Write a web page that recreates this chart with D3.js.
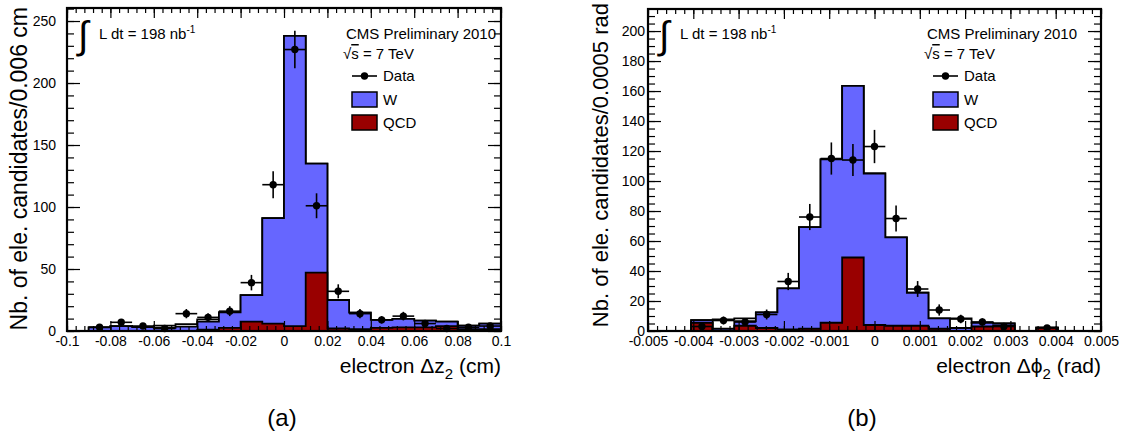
<!DOCTYPE html>
<html>
<head>
<meta charset="utf-8">
<script src="https://cdn.jsdelivr.net/npm/d3@7"></script>
<style>
  body { margin: 0; background: #fff; }
  svg text { font-family: "Liberation Sans", Arial, sans-serif; fill: #000; }
</style>
</head>
<body>
<svg id="fig" width="1125" height="434"></svg>
<script>
// ---- panel (a): electron delta z2, 20 bins between -0.1 and 0.1 cm
const dzBins  = 20;
const dzQcd   = [0, 0, 0, 0, 0, 0, 1, 2.5, 7.5, 6, 4, 47, 2, 1.5, 2.5, 3, 3, 4, 1.5, 1.5];
const dzStack = [0, 3, 4, 3.2, 4.3, 5.6, 9.4, 15, 29, 91, 238, 135, 25, 14.8, 8.9, 9.7, 8.3, 7.5, 4.3, 5.9];
const dzBlue  = [0, 3, 4, 3.2, 2.5, 3.5, 7.5, 15, 29, 91, 238, 135, 25, 14.8, 8.9, 9.7, 8.3, 7.5, 4.3, 5.9];
const dzData  = [0, 3, 7, 4, 2, 14, 11, 16, 39, 118, 227, 101, 32, 14, 9, 12, 6, 2, 3, 4];
const dzTicks = [-0.1, -0.08, -0.06, -0.04, -0.02, 0, 0.02, 0.04, 0.06, 0.08, 0.1];
const dzTickLabels = ["-0.1", "-0.08", "-0.06", "-0.04", "-0.02", "0", "0.02", "0.04", "0.06", "0.08", "0.1"];
const dzYTicks = [0, 50, 100, 150, 200, 250];

// ---- panel (b): electron delta phi2, 21 bins between -0.005 and 0.005 rad
const phBins  = 21;
const phQcd   = [0, 0, 5.5, 0, 3.5, 2, 1, 1.5, 5.5, 49, 4, 3.5, 3.5, 1.5, 0, 3, 3.5, 0, 2.2, 0, 0];
const phStack = [0, 0, 7.3, 7.8, 8.4, 12.4, 28.4, 69.3, 114.4, 163.5, 105, 62.4, 25.5, 8.4, 8.4, 5.5, 5, 0, 2.2, 0, 0];
const phBlue  = [0, 0, 7.3, 1.5, 6.5, 12.4, 28.4, 69.3, 114.4, 163.5, 105, 62.4, 25.5, 8.4, 2, 5.5, 5, 0, 2.2, 0, 0];
const phData  = [0, 0, 3, 7, 6, 11, 33, 76, 115, 114, 123, 75, 28, 14, 8, 6, 3, 0, 2, 0, 0];
const phTicks = [-0.005, -0.004, -0.003, -0.002, -0.001, 0, 0.001, 0.002, 0.003, 0.004, 0.005];
const phTickLabels = ["-0.005", "-0.004", "-0.003", "-0.002", "-0.001", "0", "0.001", "0.002", "0.003", "0.004", "0.005"];
const phYTicks = [0, 20, 40, 60, 80, 100, 120, 140, 160, 180, 200];

const blue = "#6666ff", red = "#990000";
const svg = d3.select("#fig");

function drawPanel(p) {
  const x = d3.scaleLinear().domain(p.xDomain).range([p.left, p.right]);
  const y = d3.scaleLinear().domain(p.yDomain).range([p.bottom, p.top]);
  const g = svg.append("g");
  const bw = (p.xDomain[1] - p.xDomain[0]) / p.nBins;
  const lo = i => p.xDomain[0] + i * bw;
  const idx = d3.range(p.nBins);

  // step outline of one stacked layer
  const line = d3.line();
  function stepPath(h) {
    const pts = [[x(lo(0)), y(0)]];
    idx.forEach(i => pts.push([x(lo(i)), y(h[i])], [x(lo(i + 1)), y(h[i])]));
    pts.push([x(lo(p.nBins)), y(0)]);
    return line(pts) + "Z";
  }

  g.append("path").attr("d", stepPath(p.stack)).attr("fill", "#fff")
    .attr("stroke", "#000").attr("stroke-width", 1.8);
  g.append("path").attr("d", stepPath(p.blue)).attr("fill", blue)
    .attr("stroke", "#000").attr("stroke-width", 1.8);
  g.append("path").attr("d", stepPath(p.qcd)).attr("fill", red)
    .attr("stroke", "#000").attr("stroke-width", 1.8);

  // data points with errors
  const pts = idx.map(i => ({ a: lo(i), b: lo(i + 1), n: p.data[i] })).filter(d => d.n > 0);
  const dg = g.append("g").attr("stroke", "#000").attr("stroke-width", 1.6);
  dg.selectAll(".ex").data(pts).join("line")
    .attr("x1", d => x(d.a)).attr("x2", d => x(d.b))
    .attr("y1", d => y(d.n)).attr("y2", d => y(d.n));
  dg.selectAll(".ey").data(pts).join("line")
    .attr("x1", d => x((d.a + d.b) / 2)).attr("x2", d => x((d.a + d.b) / 2))
    .attr("y1", d => y(Math.max(0, d.n - Math.sqrt(d.n)))).attr("y2", d => y(d.n + Math.sqrt(d.n)));
  g.selectAll(".pt").data(pts).join("circle")
    .attr("cx", d => x((d.a + d.b) / 2)).attr("cy", d => y(d.n)).attr("r", 3.7).attr("fill", "#000");

  // axes, ticks pointing inwards on all four sides
  const xMinor = d3.range(p.xDomain[0], p.xDomain[1] + p.xMinor / 2, p.xMinor);
  const yMinor = d3.range(0, p.yDomain[1], p.yMinor);
  const axes = g.append("g").attr("class", "axes");

  axes.append("g").attr("transform", `translate(0,${p.bottom})`)
    .call(d3.axisBottom(x).tickValues(p.xTicks).tickSize(-10).tickPadding(5)
      .tickFormat((d, i) => p.xTickLabels[i]));
  axes.append("g").attr("transform", `translate(0,${p.bottom})`)
    .call(d3.axisBottom(x).tickValues(xMinor).tickSize(-5).tickFormat(""));
  axes.append("g").attr("transform", `translate(0,${p.top})`)
    .call(d3.axisTop(x).tickValues(p.xTicks).tickSize(-10).tickFormat(""));
  axes.append("g").attr("transform", `translate(0,${p.top})`)
    .call(d3.axisTop(x).tickValues(xMinor).tickSize(-5).tickFormat(""));

  axes.append("g").attr("transform", `translate(${p.left},0)`)
    .call(d3.axisLeft(y).tickValues(p.yTicks).tickSize(-13).tickPadding(p.yPad).tickFormat(d3.format("d")));
  axes.append("g").attr("transform", `translate(${p.left},0)`)
    .call(d3.axisLeft(y).tickValues(yMinor).tickSize(-7).tickFormat(""));
  axes.append("g").attr("transform", `translate(${p.right},0)`)
    .call(d3.axisRight(y).tickValues(p.yTicks).tickSize(-13).tickFormat(""));
  axes.append("g").attr("transform", `translate(${p.right},0)`)
    .call(d3.axisRight(y).tickValues(yMinor).tickSize(-7).tickFormat(""));

  axes.selectAll(".domain").remove();
  axes.selectAll(".tick line").attr("stroke-width", 1.2);
  axes.selectAll("text").attr("font-size", 14).attr("font-family", "Liberation Sans, Arial, sans-serif");

  // frame
  g.append("rect").attr("x", p.left).attr("y", p.top)
    .attr("width", p.right - p.left).attr("height", p.bottom - p.top)
    .attr("fill", "none").attr("stroke", "#000").attr("stroke-width", 2.2);

  // axis titles
  const xt = g.append("text").attr("x", p.right).attr("y", 373)
    .attr("text-anchor", "end").attr("font-size", 21);
  xt.append("tspan").text("electron \u0394" + p.xSym);
  xt.append("tspan").attr("font-size", 15).attr("dy", 6).text("2");
  xt.append("tspan").attr("dy", -6).text(" (" + p.unit + ")");

  g.append("text").attr("transform", `translate(${p.yTitleX},${p.yTitleEnd}) rotate(-90)`)
    .attr("text-anchor", "end").attr("font-size", p.yTitleSize).text(p.yTitle);

  // luminosity
  g.append("text").attr("x", p.left + 11).attr("y", 48).attr("font-size", 38)
    .attr("font-family", "DejaVu Serif, serif").attr("font-style", "italic").text("\u222B");
  const lt = g.append("text").attr("x", p.left + 32).attr("y", 39).attr("font-size", 15);
  lt.append("tspan").text("L dt = 198 nb");
  lt.append("tspan").attr("font-size", 10).attr("dy", -6).text("-1");

  // legend
  const lx = p.left + 285;
  g.append("text").attr("x", lx - 6).attr("y", 39).attr("font-size", 15).text("CMS Preliminary 2010");
  const st = g.append("text").attr("x", lx - 9).attr("y", 59).attr("font-size", 15);
  st.append("tspan").text("\u221A");
  st.append("tspan").attr("text-decoration", "overline").text("s");
  st.append("tspan").text(" = 7 TeV");

  g.append("line").attr("x1", lx).attr("x2", lx + 25).attr("y1", 76).attr("y2", 76)
    .attr("stroke", "#000").attr("stroke-width", 1.6);
  g.append("circle").attr("cx", lx + 12.5).attr("cy", 76).attr("r", 3.7).attr("fill", "#000");
  g.append("text").attr("x", lx + 31).attr("y", 81).attr("font-size", 15).text("Data");

  [["W", blue, 92], ["QCD", red, 115]].forEach(([name, col, yy]) => {
    g.append("rect").attr("x", lx).attr("y", yy).attr("width", 25).attr("height", 15)
      .attr("fill", col).attr("stroke", "#000").attr("stroke-width", 1.5);
    g.append("text").attr("x", lx + 31).attr("y", yy + 13).attr("font-size", 15).text(name);
  });

  // caption
  svg.append("text").attr("x", p.captionX).attr("y", 426).attr("text-anchor", "middle")
    .attr("font-size", 24).attr("font-family", "Liberation Serif, Times New Roman, serif")
    .text(p.caption);
}

drawPanel({
  left: 67, right: 501, top: 8, bottom: 331,
  xDomain: [-0.1, 0.1], yDomain: [0, 260.5], nBins: dzBins,
  qcd: dzQcd, stack: dzStack, blue: dzBlue, data: dzData,
  xTicks: dzTicks, xTickLabels: dzTickLabels, xMinor: 0.004,
  yTicks: dzYTicks, yMinor: 10, yPad: 11,
  xSym: "z", unit: "cm", yTitleX: 27, yTitleEnd: 7, yTitleSize: 23,
  yTitle: "Nb. of ele. candidates/0.006 cm",
  captionX: 282, caption: "(a)"
});

drawPanel({
  left: 648, right: 1101, top: 9, bottom: 331,
  xDomain: [-0.005, 0.005], yDomain: [0, 214.7], nBins: phBins,
  qcd: phQcd, stack: phStack, blue: phBlue, data: phData,
  xTicks: phTicks, xTickLabels: phTickLabels, xMinor: 0.0002,
  yTicks: phYTicks, yMinor: 5, yPad: 3,
  xSym: "\u03D5", unit: "rad", yTitleX: 608, yTitleEnd: 3, yTitleSize: 22,
  yTitle: "Nb. of ele. candidates/0.0005 rad",
  captionX: 862, caption: "(b)"
});
</script>
</body>
</html>
